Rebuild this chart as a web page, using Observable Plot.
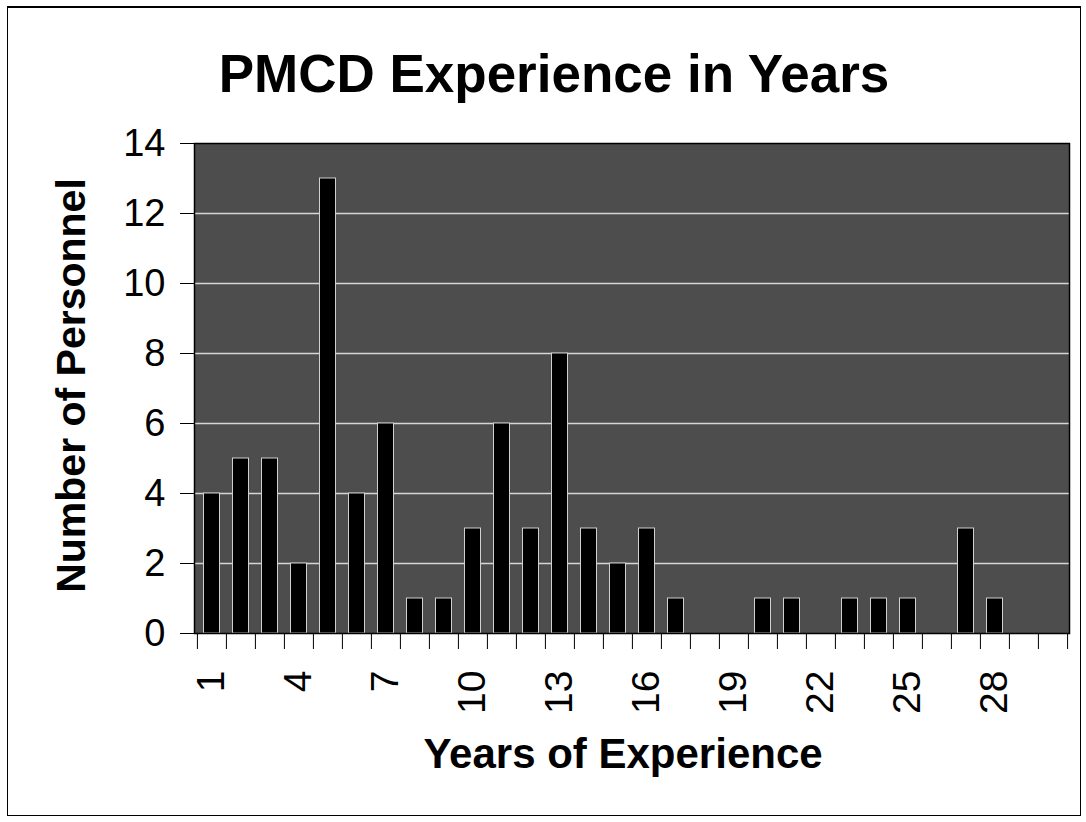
<!DOCTYPE html>
<html>
<head>
<meta charset="utf-8">
<script src="https://cdn.jsdelivr.net/npm/d3@7"></script>
<script src="https://cdn.jsdelivr.net/npm/@observablehq/plot@0.6"></script>
<style>
  html, body { margin: 0; padding: 0; background: #fff; }
  #wrap { position: relative; width: 1086px; height: 822px; overflow: hidden; font-family: "Liberation Sans", Arial, sans-serif; }
  #border { position: absolute; left: 7px; top: 6px; width: 1074px; height: 810px; box-sizing: border-box; border: 1.5px solid #000; border-top-width: 2px; pointer-events: none; }
  #title { box-sizing: border-box; height: 120px; padding-top: 48px; padding-left: 22px; text-align: center; font-size: 53px; line-height: 52px; font-weight: bold; color: #000; }
  #chart svg { display: block; }
</style>
</head>
<body>
<div id="wrap">
  <div id="border"></div>
  <div id="title"></div>
  <div id="chart"></div>
</div>
<script>
const titleText = "PMCD Experience in Years";
const xTitle = "Years of Experience";
const yTitle = "Number of Personnel";
const years = [1,2,3,4,5,6,7,8,9,10,11,12,13,14,15,16,17,18,19,20,21,22,23,24,25,26,27,28,29,30];
const personnel = [4,5,5,2,13,4,6,1,1,3,6,3,8,3,2,3,1,0,0,1,1,0,1,1,1,0,3,1,0,0];
const yTicks = [0,2,4,6,8,10,12,14];
const gridValues = [2,4,6,8,10,12];
const xTickLabels = [1,4,7,10,13,16,19,22,25,28];
const lastBoundary = [30];

document.getElementById("title").textContent = titleText;

const data = years.map((y, i) => ({year: y, count: personnel[i]}));

const W = 1086, H = 702, mL = 194, mR = 17, mT = 23, mB = 189;
const bw = (W - mL - mR) / years.length;

const chart = Plot.plot({
  width: W, height: H,
  marginTop: mT, marginBottom: mB, marginLeft: mL, marginRight: mR,
  style: {fontFamily: "'Liberation Sans', Arial, sans-serif", fontSize: "38px", background: "transparent", color: "#000", overflow: "visible"},
  x: {type: "band", domain: years, padding: 0, label: null},
  y: {domain: [0, 14], label: null},
  marks: [
    Plot.frame({fill: "#4d4d4d", stroke: null}),
    Plot.gridY(gridValues, {stroke: "#d6d6d6", strokeOpacity: 1, strokeWidth: 1.5}),
    Plot.barY(data.filter(d => d.count > 0), {x: "year", y: "count", fill: "#000", stroke: "#d0d0d0", strokeWidth: 1, insetLeft: 6.5, insetRight: 6.5}),
    Plot.frame({stroke: "#000", strokeWidth: 1.5}),
    Plot.axisY({ticks: yTicks, tickSize: 14, tickPadding: 15, fontSize: 38, label: null, stroke: "#000"}),
    Plot.axisX({ticks: years, tickSize: 16, tickFormat: () => "", dx: -bw / 2, label: null, stroke: "#000"}),
    Plot.axisX({ticks: lastBoundary, tickSize: 16, tickFormat: () => "", dx: bw / 2, label: null, stroke: "#000"}),
    Plot.axisX({ticks: xTickLabels, tickSize: 0, tickPadding: 37, tickRotate: -90, fontSize: 39, label: null}),
    Plot.text([yTitle], {text: d => d, frameAnchor: "left", textAnchor: "middle", dx: -123, dy: -3, rotate: -90, fontSize: 41, fontWeight: "bold", fill: "#000"}),
    Plot.text([xTitle], {text: d => d, frameAnchor: "bottom", dy: 134, dx: -9, fontSize: 42, fontWeight: "bold", fill: "#000"})
  ]
});
document.getElementById("chart").appendChild(chart);
</script>
</body>
</html>
